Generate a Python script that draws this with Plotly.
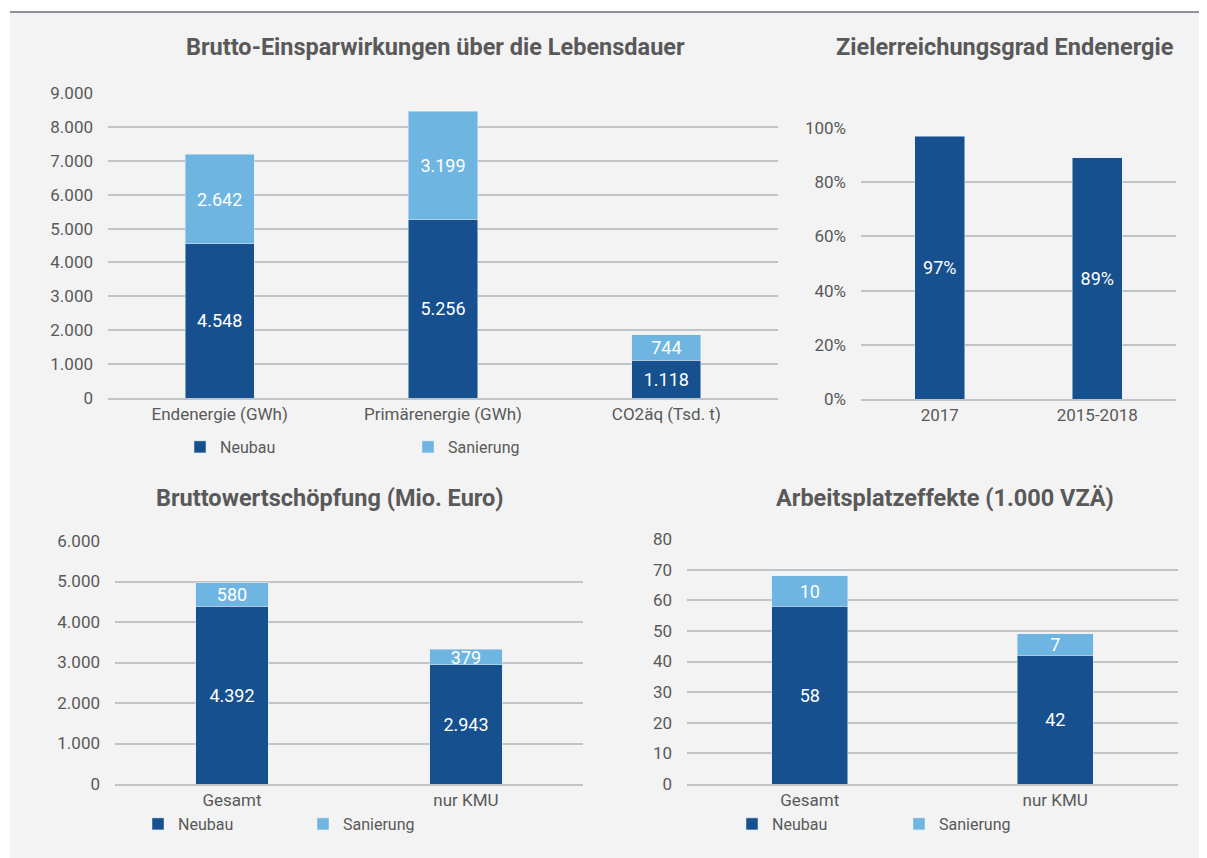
import plotly.graph_objects as go

# ---- data ----
cats_energy = ["Endenergie (GWh)", "Primärenergie (GWh)", "CO2äq (Tsd. t)"]
energy_neubau = [4548, 5256, 1118]
energy_sanierung = [2642, 3199, 744]

cats_ziel = ["2017", "2015-2018"]
ziel_pct = [97, 89]

cats_bws = ["Gesamt", "nur KMU"]
bws_neubau = [4392, 2943]
bws_sanierung = [580, 379]

cats_jobs = ["Gesamt", "nur KMU"]
jobs_neubau = [58, 42]
jobs_sanierung = [10, 7]

titles = ["Brutto-Einsparwirkungen über die Lebensdauer",
          "Zielerreichungsgrad Endenergie",
          "Bruttowertschöpfung (Mio. Euro)",
          "Arbeitsplatzeffekte (1.000 VZÄ)"]

# ---- style ----
W, H = 1207, 858
C_NEU = "#16508E"
C_SAN = "#6FB5E1"
TXT = "#595959"
GRID = "#BFC4C9"
FONT = "Roboto, Liberation Sans, sans-serif"

def px(x):
    return x / W

def py(y):
    return 1 - y / H

fig = go.Figure()

lblfont = dict(color="white", size=18, family=FONT)
common = dict(textposition="inside", insidetextanchor="middle", textfont=lblfont,
              constraintext="none", textangle=0, hoverinfo="x+y+name")

# panel 1
fig.add_bar(x=cats_energy, y=energy_neubau, name="Neubau", marker_color=C_NEU,
            xaxis="x", yaxis="y", legend="legend", texttemplate="%{y:,d}", width=0.31, **common)
fig.add_bar(x=cats_energy, y=energy_sanierung, name="Sanierung", marker_color=C_SAN,
            xaxis="x", yaxis="y", legend="legend", texttemplate="%{y:,d}", width=0.31, **common)
# panel 2
fig.add_bar(x=cats_ziel, y=ziel_pct, name="Zielerreichungsgrad", marker_color=C_NEU,
            xaxis="x2", yaxis="y2", showlegend=False,
            text=[f"{v}%" for v in ziel_pct], texttemplate="%{text}", width=0.32, **common)
# panel 3
fig.add_bar(x=cats_bws, y=bws_neubau, name="Neubau", marker_color=C_NEU,
            xaxis="x3", yaxis="y3", legend="legend2", texttemplate="%{y:,d}", width=0.31, **common)
fig.add_bar(x=cats_bws, y=bws_sanierung, name="Sanierung", marker_color=C_SAN,
            xaxis="x3", yaxis="y3", legend="legend2", texttemplate="%{y:,d}", width=0.31, **common)
# panel 4
fig.add_bar(x=cats_jobs, y=jobs_neubau, name="Neubau", marker_color=C_NEU,
            xaxis="x4", yaxis="y4", legend="legend3", texttemplate="%{y:,d}", width=0.31, **common)
fig.add_bar(x=cats_jobs, y=jobs_sanierung, name="Sanierung", marker_color=C_SAN,
            xaxis="x4", yaxis="y4", legend="legend3", texttemplate="%{y:,d}", width=0.31, **common)

tickfont = dict(color=TXT, size=17, family=FONT)

def xax(dom, anchor):
    return dict(domain=dom, anchor=anchor, showgrid=False, showline=True,
                linecolor=GRID, linewidth=2, ticks="", tickfont=tickfont,
                fixedrange=True, zeroline=False, automargin=False)

def yax(dom, anchor, rng, dtick, fmt, suffix=""):
    return dict(domain=dom, anchor=anchor, range=rng, dtick=dtick, tickformat=fmt,
                ticksuffix=suffix, showgrid=True, gridcolor=GRID, gridwidth=2,
                zeroline=False, showline=False, ticks="", tickfont=tickfont,
                ticklabelstandoff=14, fixedrange=True, automargin=False)

legfont = dict(size=16, color=TXT, family=FONT)

# figure coordinates (page has an 8px body offset)
fig.update_layout(
    width=W, height=H,
    margin=dict(l=0, r=0, t=0, b=0, autoexpand=False),
    paper_bgcolor="white", plot_bgcolor="rgba(0,0,0,0)",
    separators=",.",
    barmode="stack",
    font=dict(family=FONT, color=TXT),
    xaxis=xax([px(100), px(770)], "y"),
    yaxis=yax([py(390), py(85)], "x", [0, 9000], 1000, ",d"),
    xaxis2=xax([px(853), px(1168)], "y2"),
    yaxis2=yax([py(391), py(120)], "x2", [0, 100], 20, "d", "%"),
    xaxis3=xax([px(107), px(575)], "y3"),
    yaxis3=yax([py(776), py(533)], "x3", [0, 6000], 1000, ",d"),
    xaxis4=xax([px(679), px(1170)], "y4"),
    yaxis4=yax([py(776), py(531)], "x4", [0, 80], 10, "d"),
    legend=dict(orientation="h", x=px(172), y=py(439), xanchor="left", yanchor="middle",
                entrywidth=183, bgcolor="rgba(0,0,0,0)", font=legfont, traceorder="normal"),
    legend2=dict(orientation="h", x=px(130), y=py(816), xanchor="left", yanchor="middle",
                 entrywidth=120, bgcolor="rgba(0,0,0,0)", font=legfont, traceorder="normal"),
    legend3=dict(orientation="h", x=px(724), y=py(816), xanchor="left", yanchor="middle",
                 entrywidth=122, bgcolor="rgba(0,0,0,0)", font=legfont, traceorder="normal"),
    shapes=[
        dict(type="rect", xref="paper", yref="paper", x0=px(2), x1=1, y0=py(870), y1=py(4),
             fillcolor="#F3F3F3", line_width=0, layer="below"),
        dict(type="line", xref="paper", yref="paper", x0=px(2), x1=1, y0=py(4), y1=py(4),
             line=dict(color="#6B7078", width=1.5)),
    ],
)

tpos = [(427, 39), (997, 39), (322, 490), (937, 490)]
for t, (x, y) in zip(titles, tpos):
    fig.add_annotation(text="<b>" + t + "</b>", xref="paper", yref="paper", x=px(x), y=py(y),
                       xanchor="center", yanchor="middle", showarrow=False,
                       font=dict(size=23.5, color=TXT, family=FONT))

fig.write_html("out.html")
